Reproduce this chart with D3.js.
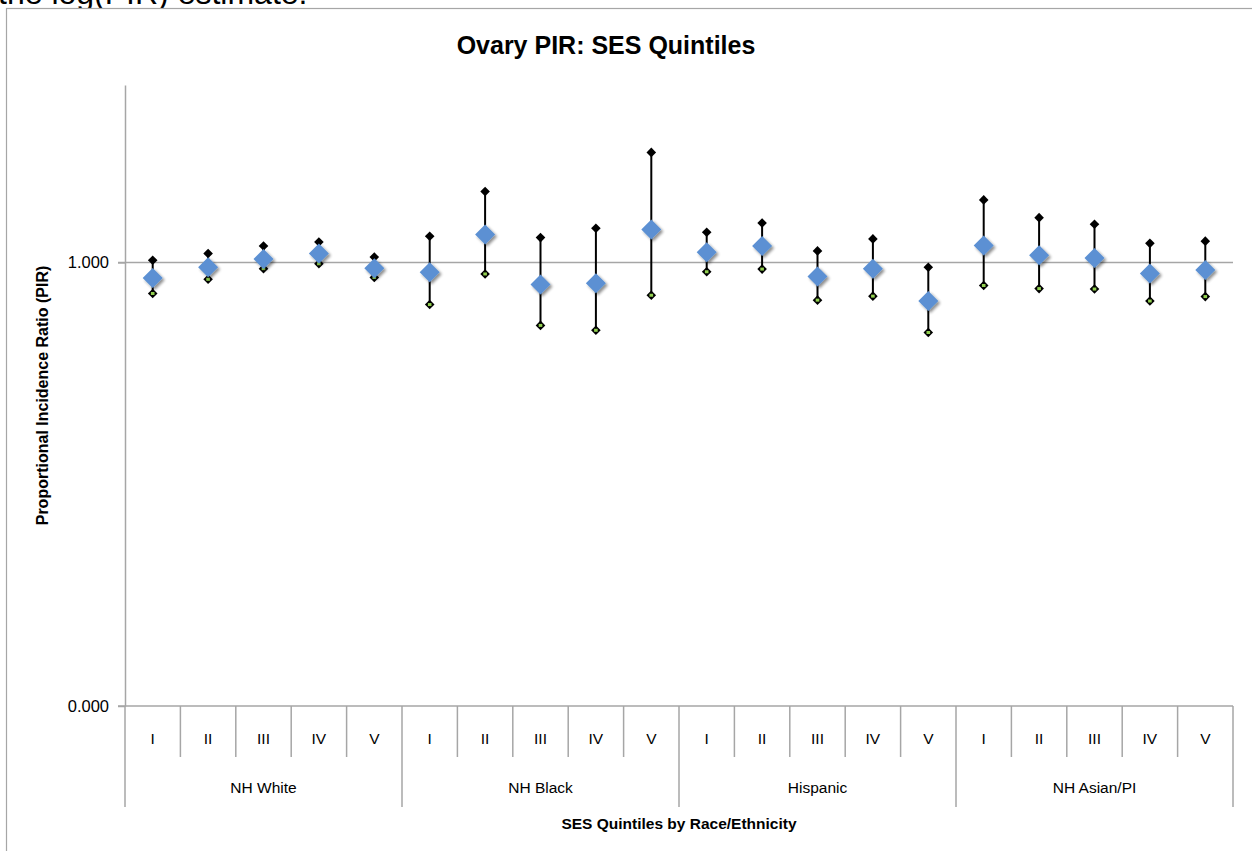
<!DOCTYPE html>
<html>
<head>
<meta charset="utf-8">
<script src="https://cdn.jsdelivr.net/npm/d3@7"></script>
<style>
  body { margin: 0; background: #fff; }
  text { font-family: "Liberation Sans", Arial, sans-serif; fill: #000; }
</style>
</head>
<body>
<script>
// Data
var groups = ["NH White", "NH Black", "Hispanic", "NH Asian/PI"];
var quintiles = ["I", "II", "III", "IV", "V"];
var pir   = [0.965, 0.989, 1.008, 1.020, 0.987,  0.978, 1.063, 0.950, 0.953, 1.074,  1.023, 1.037, 0.968, 0.986, 0.913,  1.038, 1.016, 1.010, 0.975, 0.983];
var upper = [1.005, 1.020, 1.037, 1.046, 1.012,  1.059, 1.160, 1.056, 1.077, 1.248,  1.068, 1.089, 1.026, 1.053, 0.989,  1.141, 1.101, 1.086, 1.043, 1.048];
var lower = [0.930, 0.962, 0.986, 0.997, 0.966,  0.905, 0.974, 0.858, 0.847, 0.926,  0.979, 0.985, 0.915, 0.924, 0.842,  0.948, 0.941, 0.940, 0.913, 0.923];
var yTicks = [0, 1];

function drawChart()
{
  //Settings
  var width = 1252, height = 851;
  var plotLeft = 125, plotRight = 1233, plotTop = 85, plotBottom = 706;
  var axisColor = "#a6a6a6";

  var svg = d3.select("body").append("svg").attr("width", width).attr("height", height);

  //Shadow for the blue markers
  var f = svg.append("defs").append("filter").attr("id", "shadow")
    .attr("x", "-50%").attr("y", "-50%").attr("width", "200%").attr("height", "200%");
  f.append("feGaussianBlur").attr("in", "SourceAlpha").attr("stdDeviation", 1.6);
  f.append("feOffset").attr("dx", 1.5).attr("dy", 2);
  f.append("feComponentTransfer").append("feFuncA").attr("type", "linear").attr("slope", 0.45);
  var fm = f.append("feMerge");
  fm.append("feMergeNode");
  fm.append("feMergeNode").attr("in", "SourceGraphic");

  //Cut-off text from the page above
  svg.append("text").attr("x", -2).attr("y", 4).style("font-size", "32px").text("the log(PIR) estimate.");

  //Frame
  svg.append("rect").attr("x", 6.5).attr("y", 8.5).attr("width", 1400).attr("height", 1000)
    .attr("fill", "#fff").attr("stroke", axisColor).attr("stroke-width", 1.2);

  //Scales
  var cats = [];
  groups.forEach(function(g) { quintiles.forEach(function(q) { cats.push(g + "|" + q); }); });
  var x = d3.scaleBand().domain(cats).range([plotLeft, plotRight]);
  var y = d3.scaleLinear().domain([0, 1.4]).range([plotBottom, plotTop]);

  //Title
  svg.append("text").attr("x", 606).attr("y", 54).attr("text-anchor", "middle")
    .style("font-size", "25px").style("font-weight", "bold").text("Ovary PIR: SES Quintiles");

  //Gridline at 1
  svg.append("line").attr("x1", plotLeft - 7).attr("x2", plotRight).attr("y1", y(1)).attr("y2", y(1))
    .attr("stroke", axisColor).attr("stroke-width", 1.5);

  //Y axis
  var yAxis = d3.axisLeft(y).tickValues(yTicks).tickFormat(d3.format(".3f")).tickSize(7).tickSizeOuter(0);
  var ya = svg.append("g").attr("transform", "translate(" + plotLeft + ",0)").call(yAxis);
  ya.select(".domain").attr("stroke", axisColor).attr("stroke-width", 1.5);
  ya.selectAll(".tick line").attr("stroke", axisColor).attr("stroke-width", 1.5);
  ya.selectAll(".tick text").attr("x", -16).style("font-size", "16.5px")
    .style("font-family", "Liberation Sans, Arial, sans-serif").attr("fill", "#000");

  svg.append("text").attr("transform", "translate(48," + ((plotTop + plotBottom) / 2) + ") rotate(-90)")
    .attr("text-anchor", "middle").style("font-size", "16px").style("font-weight", "bold")
    .text("Proportional Incidence Ratio (PIR)");

  //X axis (two levels)
  var xa = svg.append("g");
  xa.append("line").attr("x1", plotLeft - 7).attr("x2", plotRight).attr("y1", plotBottom).attr("y2", plotBottom)
    .attr("stroke", axisColor).attr("stroke-width", 1.5);
  cats.forEach(function(c, i) {
    var x0 = x(c);
    var isGroupEdge = i % quintiles.length === 0;
    xa.append("line").attr("x1", x0).attr("x2", x0).attr("y1", plotBottom).attr("y2", isGroupEdge ? 807 : 757)
      .attr("stroke", axisColor).attr("stroke-width", 1.5);
    xa.append("text").attr("x", x0 + x.bandwidth() / 2).attr("y", 743.5).attr("text-anchor", "middle")
      .style("font-size", "15.5px").text(c.split("|")[1]);
  });
  xa.append("line").attr("x1", plotRight).attr("x2", plotRight).attr("y1", plotBottom).attr("y2", 807)
    .attr("stroke", axisColor).attr("stroke-width", 1.5);
  groups.forEach(function(g) {
    var x0 = x(g + "|" + quintiles[0]);
    var x1 = x(g + "|" + quintiles[quintiles.length - 1]) + x.bandwidth();
    xa.append("text").attr("x", (x0 + x1) / 2).attr("y", 793).attr("text-anchor", "middle")
      .style("font-size", "15.5px").text(g);
  });
  svg.append("text").attr("x", 679).attr("y", 829).attr("text-anchor", "middle")
    .style("font-size", "15.5px").style("font-weight", "bold").text("SES Quintiles by Race/Ethnicity");

  //Marks
  var diamond = function(r) { return "M0," + (-r) + "L" + r + ",0L0," + r + "L" + (-r) + ",0Z"; };
  var marks = svg.append("g");
  cats.forEach(function(c, i) {
    var cx = x(c) + x.bandwidth() / 2;
    marks.append("line").attr("x1", cx).attr("x2", cx).attr("y1", y(upper[i])).attr("y2", y(lower[i]))
      .attr("stroke", "#000").attr("stroke-width", 2);
    marks.append("path").attr("d", diamond(4.8)).attr("transform", "translate(" + cx + "," + y(upper[i]) + ")")
      .attr("fill", "#000");
    marks.append("path").attr("d", diamond(4.8)).attr("transform", "translate(" + cx + "," + y(lower[i]) + ")")
      .attr("fill", "#000");
    marks.append("rect").attr("x", cx - 1.8).attr("y", y(lower[i]) - 1.5).attr("width", 3.6).attr("height", 3)
      .attr("fill", "#92d050");
    marks.append("path").attr("d", diamond(10)).attr("transform", "translate(" + cx + "," + y(pir[i]) + ")")
      .attr("fill", "#5b90d3").attr("filter", "url(#shadow)");
  });
}

drawChart();
</script>
</body>
</html>
